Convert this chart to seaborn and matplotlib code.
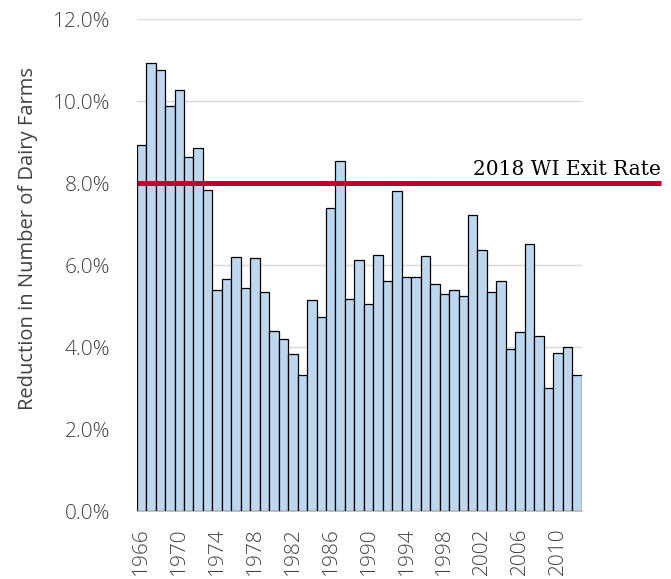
import numpy as np
import pandas as pd
import matplotlib
matplotlib.use("Agg")
import matplotlib.pyplot as plt
import matplotlib.ticker as mtick
import seaborn as sns

years = list(range(1966, 2013))
reduction = [8.92, 10.93, 10.75, 9.89, 10.27, 8.63, 8.85, 7.84, 5.40, 5.67,
             6.19, 5.44, 6.17, 5.35, 4.38, 4.20, 3.84, 3.32, 5.15, 4.74,
             7.38, 8.54, 5.17, 6.12, 5.04, 6.24, 5.61, 7.81, 5.72, 5.71,
             6.21, 5.55, 5.30, 5.38, 5.24, 7.22, 6.37, 5.35, 5.61, 3.95,
             4.37, 6.52, 4.28, 2.99, 3.86, 4.00, 3.33]
exit_rate = 8.0
exit_label = "2018 WI Exit Rate"

df = pd.DataFrame({"year": years, "reduction": np.array(reduction) / 100})

sns.set_style("white")
plt.rcParams["font.family"] = ["Open Sans", "DejaVu Sans"]
plt.rcParams["font.weight"] = "light"

fig = plt.figure(figsize=(6.71, 5.79), dpi=100)
ax = fig.add_axes([0.2037, 0.1174, 0.663, 0.8496])

ax.yaxis.grid(True, color="#d9d9d9", linewidth=1)
ax.set_axisbelow(True)

sns.barplot(data=df, x="year", y="reduction", color="#bdd7ee", saturation=1,
            edgecolor="black", linewidth=0.9, width=1.0, ax=ax)

ax.set_ylim(0, 0.12)
ax.set_yticks(np.arange(0, 0.121, 0.02))
ax.yaxis.set_major_formatter(mtick.PercentFormatter(1.0, decimals=1))
ax.set_xlim(-0.5, len(years) - 0.5)
tick_idx = list(range(0, len(years), 4))
ax.set_xticks(tick_idx)
ax.set_xticklabels([str(years[i]) for i in tick_idx], rotation=90)

ax.tick_params(axis="y", length=0, pad=19, labelsize=15, labelcolor="#404040")
ax.tick_params(axis="x", length=0, pad=12, labelsize=15, labelcolor="#404040")
ax.set_xlabel("")
ax.set_ylabel("Reduction in Number of Dairy Farms", fontsize=14.5, color="#404040")
ax.yaxis.set_label_coords(-0.222, 0.553)

for s in ["left", "right", "top"]:
    ax.spines[s].set_visible(False)
ax.spines["bottom"].set_color("#bfbfbf")

line = ax.axhline(exit_rate / 100, xmin=0, xmax=1.178, color="#c00030",
                  linewidth=3.6, clip_on=False, zorder=5)
line.set_solid_capstyle("butt")
ax.text(1.178, exit_rate / 100 + 0.001, exit_label, transform=ax.get_yaxis_transform(),
        ha="right", va="bottom", fontsize=14.5, family=["DejaVu Serif"],
        fontweight="normal", color="black")

fig.savefig("out.png", dpi=100)
